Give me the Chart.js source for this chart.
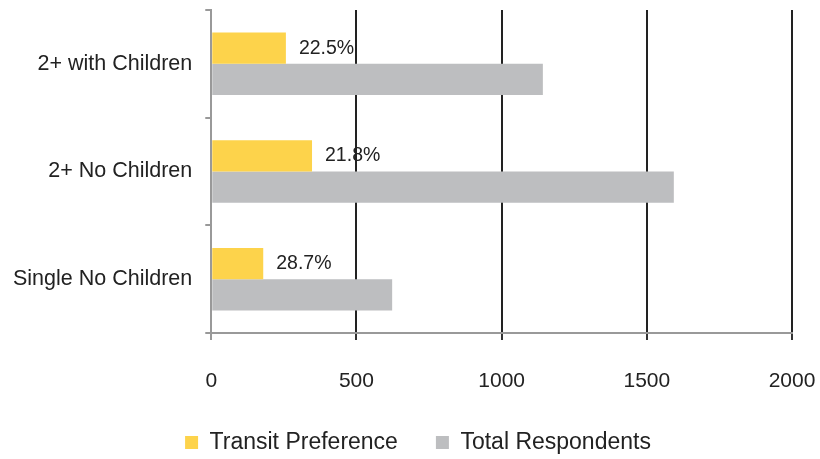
<!DOCTYPE html>
<html>
<head>
<meta charset="utf-8">
<script src="https://cdn.jsdelivr.net/npm/chart.js@4/dist/chart.umd.min.js"></script>
<style>
  html, body { margin: 0; padding: 0; background: #fff; }
  #wrap { width: 820px; height: 459px; }
</style>
</head>
<body>
<div id="wrap"><canvas id="chart" width="820" height="459"></canvas></div>
<script>
// Household groups and survey counts
const categories = ['2+ with Children', '2+ No Children', 'Single No Children'];
const transitPreference = [257, 347, 179];
const totalRespondents = [1142, 1593, 623];
const shareLabels = ['22.5%', '21.8%', '28.7%'];
const xTicks = [0, 500, 1000, 1500, 2000];

const FONT = '"Liberation Sans", Arial, sans-serif';

// Draw the percentage next to each yellow bar
const shareLabelPlugin = {
    id: 'shareLabels',
    afterDatasetsDraw(chart) {
        const ctx = chart.ctx;
        const meta = chart.getDatasetMeta(0);
        ctx.save();
        ctx.font = '19.5px ' + FONT;
        ctx.fillStyle = '#222';
        ctx.textAlign = 'left';
        ctx.textBaseline = 'middle';
        meta.data.forEach((bar, i) => {
            ctx.fillText(shareLabels[i], bar.x + 13, bar.y);
        });
        ctx.restore();
    }
};

// Legend padding is wide sideways; keep its box short and nudge it right
const legendHeightPlugin = {
    id: 'legendHeight',
    beforeInit(chart) {
        const origFit = chart.legend.fit;
        chart.legend.fit = function () {
            origFit.bind(chart.legend)();
            this.height = 66;
        };
    },
    afterLayout(chart) {
        chart.legend.left += 22;
        chart.legend.right += 22;
    }
};

new Chart(document.getElementById('chart'), {
    type: 'bar',
    data: {
        labels: categories,
        datasets: [
            {
                label: 'Transit Preference',
                data: transitPreference,
                backgroundColor: '#FDD34B',
                categoryPercentage: 0.58,
                barPercentage: 1.0
            },
            {
                label: 'Total Respondents',
                data: totalRespondents,
                backgroundColor: '#BDBEC0',
                categoryPercentage: 0.58,
                barPercentage: 1.0
            }
        ]
    },
    options: {
        indexAxis: 'y',
        responsive: false,
        animation: false,
        layout: { padding: { top: 10, right: 28, left: 0, bottom: 0 } },
        scales: {
            x: {
                min: 0,
                max: 2000,
                afterBuildTicks(axis) {
                    axis.ticks = xTicks.map(v => ({ value: v }));
                },
                afterFit(axis) {
                    axis.paddingLeft = 0;
                    axis.paddingRight = 0;
                    axis.height = 60;
                },
                border: { color: '#999', width: 2 },
                grid: {
                    color: ctx => ctx.index === 0 ? 'rgba(0,0,0,0)' : '#222',
                    lineWidth: 2,
                    tickColor: ctx => ctx.index === 0 ? '#999' : '#333',
                    tickLength: 7
                },
                ticks: {
                    color: '#222',
                    padding: 31,
                    callback: v => String(v),
                    font: { family: FONT, size: 21, lineHeight: 1 }
                }
            },
            y: {
                // no extra room above/below the bands for the labels
                afterFit(axis) {
                    axis.paddingTop = 0;
                    axis.paddingBottom = 0;
                },
                border: { color: '#999', width: 2 },
                grid: {
                    drawOnChartArea: false,
                    color: '#999',
                    lineWidth: 2,
                    tickLength: 6,
                    offset: true
                },
                ticks: {
                    color: '#222',
                    padding: 13,
                    font: { family: FONT, size: 21.5 }
                }
            }
        },
        plugins: {
            tooltip: { enabled: false },
            legend: {
                position: 'bottom',
                labels: {
                    color: '#222',
                    boxWidth: 13,
                    boxHeight: 13,
                    padding: 38,
                    font: { family: FONT, size: 23 }
                }
            }
        }
    },
    plugins: [shareLabelPlugin, legendHeightPlugin]
});
</script>
</body>
</html>
